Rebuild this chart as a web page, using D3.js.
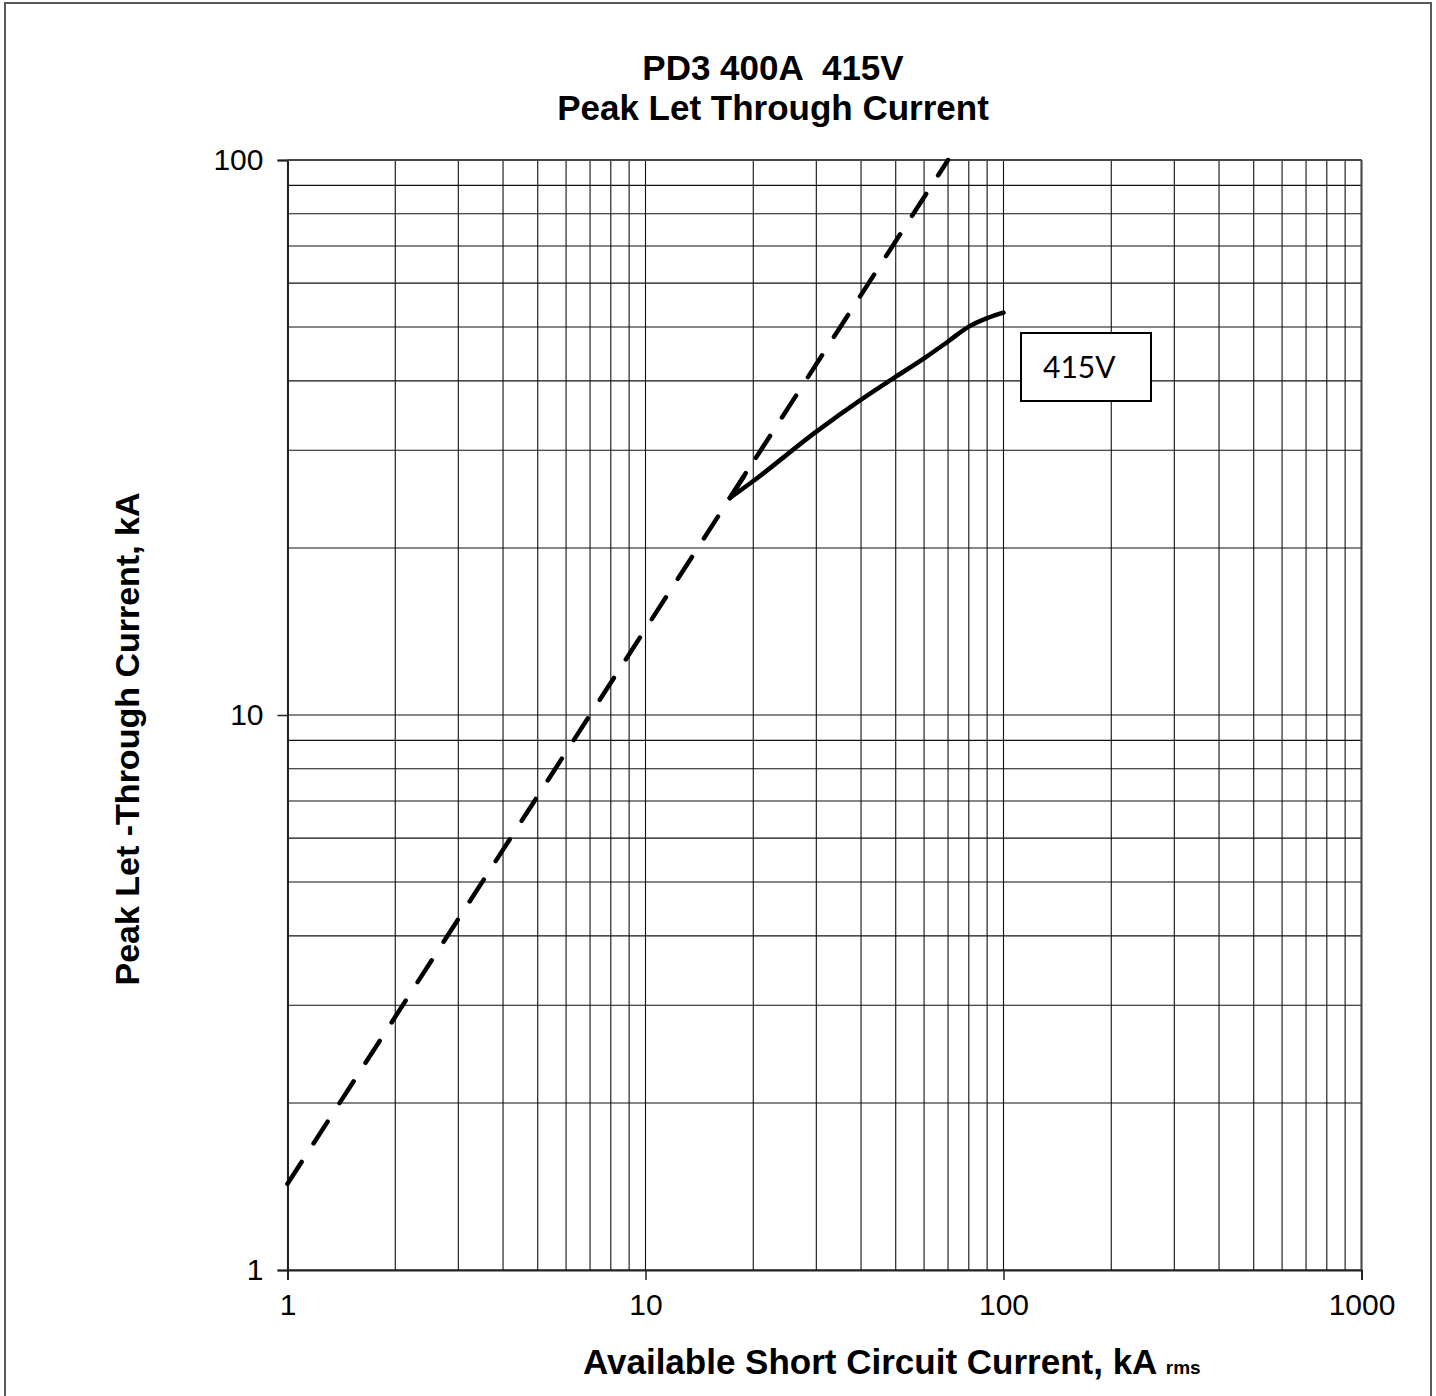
<!DOCTYPE html>
<html>
<head>
<meta charset="utf-8">
<script src="https://cdn.jsdelivr.net/npm/d3@7"></script>
<style>
  html, body { margin: 0; padding: 0; background: #fff; }
  svg { display: block; }
  text { white-space: pre; }
</style>
</head>
<body>
<svg id="chart" width="1436" height="1396"></svg>
<script>
// ---- data ----
const titleLines = ["PD3 400A  415V", "Peak Let Through Current"];
const xTickValues = [1, 10, 100, 1000];
const yTickValues = [1, 10, 100];
const xTickLabels = ["1", "10", "100", "1000"];
const yTickLabels = ["1", "10", "100"];
// dashed reference line (unlimited peak)
const dashX = [1, 70];
const dashY = [1.43, 100];
// 415V let-through curve
const curveX = [17.2, 20, 30, 40, 50, 60, 70, 80, 90, 100];
const curveY = [24.6, 26.4, 32.4, 37.0, 40.7, 43.9, 47.1, 50.1, 51.9, 53.1];
const seriesLabel = "415V";
const yTitle = "Peak Let -Through Current, kA";
const xTitleMain = "Available Short Circuit Current, kA ";
const xTitleSub = "rms";

// ---- layout ----
const svg = d3.select("#chart");
const pL = 287.5, pR = 1361.5, pT = 160, pB = 1270;
const x = d3.scaleLog().domain([1, 1000]).range([pL, pR]);
const y = d3.scaleLog().domain([1, 100]).range([pB, pT]);

svg.append("rect").attr("width", 1436).attr("height", 1396).attr("fill", "#fff");
// outer frame
svg.append("rect").attr("x", 5).attr("y", 3).attr("width", 1426).attr("height", 1420)
  .attr("fill", "none").attr("stroke", "#5a5a5a").attr("stroke-width", 2);

// grid values
const xGrid = [];
for (let d = 1; d < 1000; d *= 10) for (let m = 1; m < 10; m++) xGrid.push(m * d);
xGrid.push(1000);
const yGrid = [];
for (let d = 1; d < 100; d *= 10) for (let m = 1; m < 10; m++) yGrid.push(m * d);
yGrid.push(100);

const g = svg.append("g");
g.selectAll(".vg").data(xGrid).enter().append("line")
  .attr("x1", d => x(d)).attr("x2", d => x(d)).attr("y1", pT).attr("y2", pB)
  .attr("stroke", "#111").attr("stroke-width", 1.1);
g.selectAll(".hg").data(yGrid).enter().append("line")
  .attr("y1", d => y(d)).attr("y2", d => y(d)).attr("x1", pL).attr("x2", pR)
  .attr("stroke", "#111").attr("stroke-width", 1.1);

// axes
const yAxis = d3.axisLeft(y).tickValues(yTickValues).tickSize(10)
  .tickFormat((d, i) => yTickLabels[i]);
const xAxis = d3.axisBottom(x).tickValues(xTickValues).tickSize(10)
  .tickFormat((d, i) => xTickLabels[i]);

const ya = svg.append("g").attr("transform", `translate(${pL},0)`).call(yAxis);
const xa = svg.append("g").attr("transform", `translate(0,${pB})`).call(xAxis);
[ya, xa].forEach(a => {
  a.select(".domain").attr("stroke", "#222").attr("stroke-width", 2);
  a.selectAll(".tick line").attr("stroke", "#222").attr("stroke-width", 1.5);
  a.selectAll(".tick text").attr("font-family", "Liberation Sans, Arial, sans-serif")
    .attr("font-size", 30).attr("fill", "#000");
});
ya.selectAll(".tick text").attr("x", -24);
xa.selectAll(".tick text").attr("y", 24);
// right & top border
svg.append("line").attr("x1", pR).attr("x2", pR).attr("y1", pT).attr("y2", pB)
  .attr("stroke", "#444").attr("stroke-width", 2);
svg.append("line").attr("x1", pL).attr("x2", pR).attr("y1", pT).attr("y2", pT)
  .attr("stroke", "#444").attr("stroke-width", 2);

// dashed line
const line = d3.line().x(d => x(d[0])).y(d => y(d[1]));
svg.append("path").datum(d3.zip(dashX, dashY)).attr("d", line)
  .attr("fill", "none").attr("stroke", "#000").attr("stroke-width", 4.5)
  .attr("stroke-dasharray", "26,22").attr("stroke-linecap", "round");

// solid curve
const curvePts = d3.zip(curveX, curveY);
const sline = d3.line().x(d => x(d[0])).y(d => y(d[1])).curve(d3.curveMonotoneX);
svg.append("path").datum(curvePts).attr("d", sline)
  .attr("fill", "none").attr("stroke", "#000").attr("stroke-width", 4.5)
  .attr("stroke-linecap", "round").attr("stroke-linejoin", "round");
// arrow wing at start of curve
const p0 = curvePts[0];
svg.append("line").attr("x1", x(p0[0])).attr("y1", y(p0[1]))
  .attr("x2", x(p0[0]) + 16).attr("y2", y(p0[1]) - 25)
  .attr("stroke", "#000").attr("stroke-width", 4.5).attr("stroke-linecap", "round");

// label box
svg.append("rect").attr("x", 1021).attr("y", 333).attr("width", 130).attr("height", 68)
  .attr("fill", "#fff").attr("stroke", "#000").attr("stroke-width", 2);
svg.append("text").attr("x", 1043).attr("y", 378).text(seriesLabel)
  .attr("font-family", "Lato, Open Sans, sans-serif").attr("font-size", 30).attr("fill", "#000");

// titles
const tf = "Liberation Sans, Arial, sans-serif";
svg.append("text").attr("x", 773).attr("y", 80).attr("text-anchor", "middle")
  .attr("font-family", tf).attr("font-weight", "bold").attr("font-size", 35).text(titleLines[0]);
svg.append("text").attr("x", 773).attr("y", 120).attr("text-anchor", "middle")
  .attr("font-family", tf).attr("font-weight", "bold").attr("font-size", 35).text(titleLines[1]);

svg.append("text").attr("transform", "translate(139,739) rotate(-90)").attr("text-anchor", "middle")
  .attr("font-family", tf).attr("font-weight", "bold").attr("font-size", 34).text(yTitle);

const xt = svg.append("text").attr("x", 583).attr("y", 1374)
  .attr("font-family", tf).attr("font-weight", "bold").attr("font-size", 35);
xt.append("tspan").text(xTitleMain);
xt.append("tspan").attr("font-size", 19).text(xTitleSub);
</script>
</body>
</html>
